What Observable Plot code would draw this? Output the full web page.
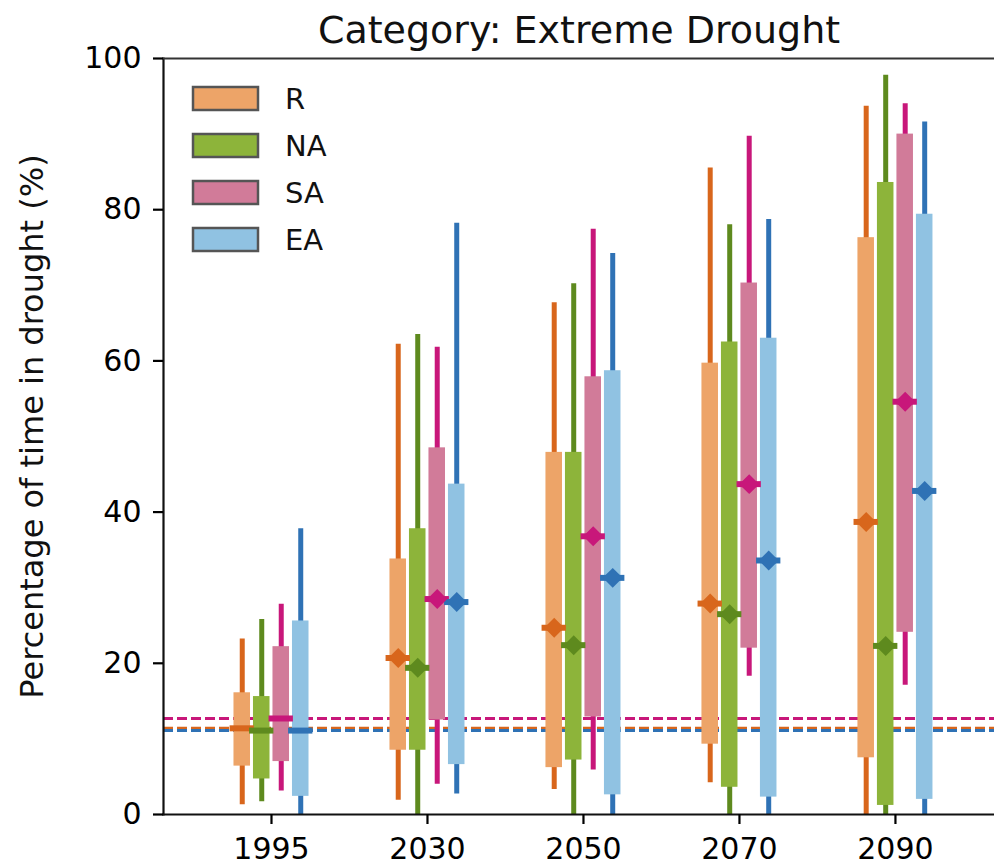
<!DOCTYPE html>
<html>
<head>
<meta charset="utf-8">
<script src="https://cdn.jsdelivr.net/npm/d3@7"></script>
<script src="https://cdn.jsdelivr.net/npm/@observablehq/plot@0.6"></script>
<style>
  html, body { margin: 0; padding: 0; background: white; }
  #wrap { position: relative; width: 994px; height: 865px; overflow: hidden; }
  #legend { position: absolute; left: 193px; top: 75px; }
  #legend svg { margin-right: 27px !important; overflow: visible !important; }
  #legend svg rect { stroke: #555; stroke-width: 2.5px; }
  #legend [class$="-swatch"] { height: 47px; padding-bottom: 0 !important; }
</style>
</head>
<body>
<div id="wrap"><div id="chart"></div><div id="legend"></div></div>
<script>
// ---- data ----
const years = ["1995", "2030", "2050", "2070", "2090"];
const series = ["R", "NA", "SA", "EA"];
const boxColors = ["#eda468", "#8db43a", "#d17b99", "#90c2e2"];
const lineColors = ["#d8661c", "#5e8a1e", "#c8177a", "#2f72b5"];

const R_whiskerHi = [23.2, 62.2, 67.7, 85.5, 93.7];
const R_boxHi     = [16.1, 33.8, 47.9, 59.7, 76.3];
const R_median    = [11.4, 20.7, 24.7, 27.9, 38.7];
const R_boxLo     = [6.4, 8.5, 6.2, 9.3, 7.5];
const R_whiskerLo = [1.3, 1.9, 3.3, 4.2, 0];

const NA_whiskerHi = [25.8, 63.5, 70.2, 78.0, 97.8];
const NA_boxHi     = [15.6, 37.8, 47.9, 62.5, 83.6];
const NA_median    = [11.1, 19.4, 22.4, 26.5, 22.3];
const NA_boxLo     = [4.7, 8.5, 7.2, 3.6, 1.2];
const NA_whiskerLo = [1.7, 0, 0, 0, 0];

const SA_whiskerHi = [27.8, 61.8, 77.4, 89.7, 94.0];
const SA_boxHi     = [22.2, 48.5, 57.9, 70.3, 90.0];
const SA_median    = [12.7, 28.5, 36.8, 43.7, 54.6];
const SA_boxLo     = [7.0, 12.5, 12.9, 22.0, 24.1];
const SA_whiskerLo = [3.1, 4.0, 5.9, 18.3, 17.1];

const EA_whiskerHi = [37.8, 78.2, 74.2, 78.7, 91.6];
const EA_boxHi     = [25.6, 43.7, 58.7, 63.0, 79.4];
const EA_median    = [11.1, 28.1, 31.3, 33.6, 42.8];
const EA_boxLo     = [2.4, 6.6, 2.6, 2.3, 2.0];
const EA_whiskerLo = [0, 2.7, 0, 0, 0];

const yTicks = [0, 20, 40, 60, 80, 100];
const titleText = "Category: Extreme Drought";
const yLabelText = "Percentage of time in drought (%)";

// ---- table ----
const stats = {
  R: [R_whiskerLo, R_boxLo, R_median, R_boxHi, R_whiskerHi],
  NA: [NA_whiskerLo, NA_boxLo, NA_median, NA_boxHi, NA_whiskerHi],
  SA: [SA_whiskerLo, SA_boxLo, SA_median, SA_boxHi, SA_whiskerHi],
  EA: [EA_whiskerLo, EA_boxLo, EA_median, EA_boxHi, EA_whiskerHi]
};
const offsets = [-0.1875, -0.0625, 0.0625, 0.1875];
const rows = [];
series.forEach((s, j) => {
  const [lo, q1, med, q3, hi] = stats[s];
  years.forEach((yr, i) => {
    rows.push({series: s, j, i, pos: i + offsets[j], lo: lo[i], q1: q1[i], med: med[i], q3: q3[i], hi: hi[i]});
  });
});
const baselines = series.map((s, j) => ({series: s, j, value: stats[s][2][0]}));

const boxHalf = 0.053;
const medHalf = 0.078;

const chart = Plot.plot({
  width: 994,
  height: 865,
  marginLeft: 163,
  marginRight: 0,
  marginTop: 58,
  marginBottom: 51,
  style: {fontFamily: "DejaVu Sans", fontSize: "30px", background: "white", color: "black", overflow: "visible"},
  x: {domain: [-0.6923, 4.635]},
  y: {domain: [0, 100]},
  marks: [
    Plot.ruleY(baselines, {y: "value", stroke: d => lineColors[d.j], strokeWidth: 3, strokeDasharray: "10,4"}),
    Plot.ruleX(rows, {x: "pos", y1: "lo", y2: "hi", stroke: d => lineColors[d.j], strokeWidth: 5}),
    Plot.rect(rows, {x1: d => d.pos - boxHalf, x2: d => d.pos + boxHalf, y1: "q1", y2: "q3", fill: d => boxColors[d.j]}),
    Plot.ruleY(rows, {y: "med", x1: d => d.pos - medHalf, x2: d => d.pos + medHalf, stroke: d => lineColors[d.j], strokeWidth: 6}),
    Plot.dot(rows.filter(d => d.i > 0), {x: "pos", y: "med", symbol: "diamond2", r: 9, fill: d => lineColors[d.j], stroke: "none"}),
    Plot.frame({anchor: "left", stroke: "#111", strokeWidth: 2.2}),
    Plot.frame({anchor: "bottom", stroke: "#111", strokeWidth: 2.2}),
    Plot.frame({anchor: "top", stroke: "#333", strokeWidth: 2.2}),
    Plot.axisY({ticks: yTicks, tickSize: 10, tickPadding: 12, label: null, strokeWidth: 2.2}),
    Plot.axisX({ticks: years.map((y, i) => i), tickFormat: i => years[i], tickSize: 10, tickPadding: 13, label: null, strokeWidth: 2.2}),
    Plot.text([titleText], {frameAnchor: "top", dy: -42, fontSize: 38, fill: "#111"}),
    Plot.text([yLabelText], {frameAnchor: "left", textAnchor: "middle", rotate: -90, dx: -131, dy: -10, fontSize: 32, fill: "#111"})
  ]
});
document.getElementById("chart").appendChild(chart);

const legend = Plot.legend({
  color: {domain: series, range: boxColors},
  legend: "swatches",
  columns: 1,
  swatchWidth: 65,
  swatchHeight: 23,
  style: {fontFamily: "DejaVu Sans", fontSize: "29px", color: "#111"}
});
document.getElementById("legend").appendChild(legend);
</script>
</body>
</html>
